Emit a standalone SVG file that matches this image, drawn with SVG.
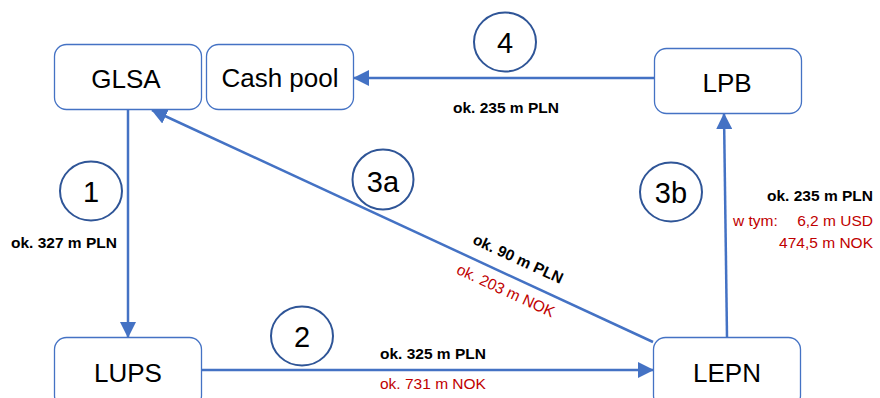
<svg xmlns="http://www.w3.org/2000/svg" width="880" height="398" viewBox="0 0 880 398">
<defs>
<marker id="arr" viewBox="0 0 16 16" markerWidth="16" markerHeight="16" markerUnits="userSpaceOnUse" refX="15" refY="8" orient="auto">
<path d="M0,0 L16,8 L0,16 z" fill="#4472c4"/>
</marker>
<style>
.box{fill:#fff;stroke:#4472c4;stroke-width:1.3}
.lbl{font-family:"Liberation Sans",Arial,sans-serif;font-size:26px;fill:#000;text-anchor:middle}
.num{fill:#fff;stroke:#2f5597;stroke-width:2}
.numt{font-family:"Liberation Sans",Arial,sans-serif;font-size:29px;fill:#000;text-anchor:middle}
.con{fill:none;stroke:#4472c4;stroke-width:2.5;marker-end:url(#arr)}
.b{font-family:"Liberation Sans",Arial,sans-serif;font-size:15.5px;font-weight:bold;fill:#000}
.r{font-family:"Liberation Sans",Arial,sans-serif;font-size:15.5px;fill:#c00000}
</style>
</defs>
<rect width="880" height="398" fill="#fff"/>

<g id="connectors">
<path class="con" d="M128,110 L128,337"/>
<path class="con" d="M202,370 L653,370"/>
<path class="con" d="M653,342 L152,110"/>
<path class="con" d="M727,337 L724,114"/>
<path class="con" d="M654,78 L354,78"/>
</g>

<g id="GLSA"><rect class="box" x="54.5" y="44.5" width="147" height="65" rx="12"/><text class="lbl" x="126" y="88">GLSA</text></g>
<g id="CashPool"><rect class="box" x="206.5" y="44.5" width="147" height="65" rx="12"/><text class="lbl" x="280" y="87">Cash pool</text></g>
<g id="LPB"><rect class="box" x="654.5" y="48.5" width="147" height="65" rx="12"/><text class="lbl" x="727" y="92">LPB</text></g>
<g id="LUPS"><rect class="box" x="54.5" y="337.5" width="147" height="70" rx="12"/><text class="lbl" x="128" y="382">LUPS</text></g>
<g id="LEPN"><rect class="box" x="653.5" y="337.5" width="147" height="70" rx="12"/><text class="lbl" x="727" y="382">LEPN</text></g>

<g id="step1"><ellipse class="num" cx="91" cy="191" rx="31" ry="29.5"/><text class="numt" x="91" y="202">1</text></g>
<g id="step2"><ellipse class="num" cx="302" cy="336" rx="31" ry="29.5"/><text class="numt" x="302" y="347">2</text></g>
<g id="step3a"><ellipse class="num" cx="383" cy="179.5" rx="30.5" ry="30"/><text class="numt" x="383" y="192">3a</text></g>
<g id="step3b"><ellipse class="num" cx="671" cy="192" rx="31" ry="29.5"/><text class="numt" x="671" y="203">3b</text></g>
<g id="step4"><ellipse class="num" cx="505" cy="42" rx="31" ry="29.5"/><text class="numt" x="505" y="53">4</text></g>

<g id="labels">
<text class="b" x="11" y="248">ok. 327 m PLN</text>
<text class="b" x="453" y="113">ok. 235 m PLN</text>
<text class="b" x="380" y="359">ok. 325 m PLN</text>
<text class="r" x="380" y="389">ok. 731 m NOK</text>
<text class="b" x="873" y="201" text-anchor="end">ok. 235 m PLN</text>
<text class="r" x="733" y="226">w tym:</text>
<text class="r" x="873" y="226" text-anchor="end">6,2 m USD</text>
<text class="r" x="873" y="248" text-anchor="end">474,5 m NOK</text>
<g transform="translate(516,278) rotate(24.7)">
<text class="b" x="-6" y="-13" text-anchor="middle">ok. 90 m PLN</text>
<text class="r" x="-4" y="21" text-anchor="middle">ok. 203 m NOK</text>
</g>
</g>
</svg>
